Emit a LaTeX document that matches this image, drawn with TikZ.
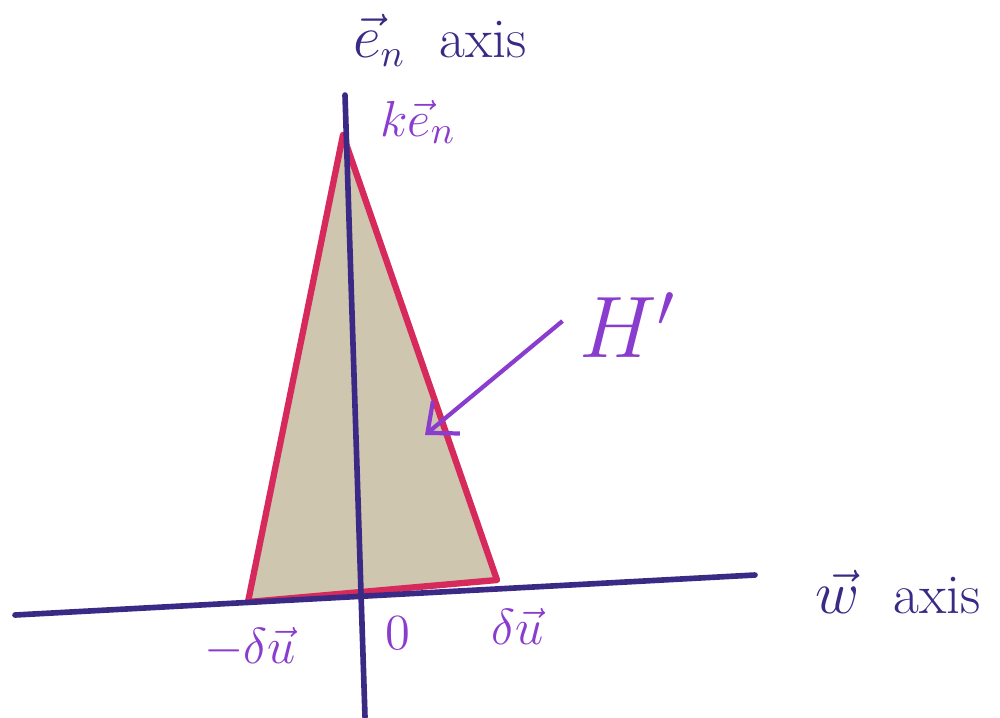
\documentclass[tikz,border=0pt]{standalone}
\usepackage{amsmath,amssymb}
\usepackage{xcolor}
\usetikzlibrary{calc,arrows.meta}
\definecolor{paper}{HTML}{FFFFFF}
\definecolor{ink}{HTML}{3A2A85}
\definecolor{pen}{HTML}{8A3CCF}
\definecolor{rim}{HTML}{D62A5C}
\definecolor{shade}{HTML}{CFC6B0}
\tikzset{
  axisline/.style={draw=ink, line width=1.6pt, line cap=round},
  region/.style={draw=rim, fill=shade, line width=1.8pt, line join=round},
  pointer/.style={draw=pen, line width=1.2pt, -{Straight Barb[length=7pt,width=12pt]}},
  lab/.style={text=pen, inner sep=1pt, font=\fontsize{15}{17}\selectfont},
  laba/.style={text=ink, inner sep=1pt, font=\fontsize{16}{18}\selectfont},
}
\begin{document}
\begin{tikzpicture}[x=0.1mm, y=-0.1mm]
  \useasboundingbox[fill=paper] (0,0) rectangle (1000,717);
  % axes
  \coordinate (Etop) at (345,95);
  \coordinate (Ebot) at (365,717);
  \coordinate (Wl) at (15,615);
  \coordinate (Wr) at (755,575);
  % triangle H'
  \coordinate (A) at (343,135);
  \coordinate (L) at (248,602);
  \coordinate (R) at (497,580);
  \draw[region] (A) -- (R) -- (L) -- cycle;
  \draw[axisline] (Wl) -- (Wr);
  \draw[axisline] (Etop) -- (Ebot);
  % labels
  \node[laba] (enaxis) at (440,40) {$\vec{e}_n$\ \ axis};
  \node[laba] (waxis) at (898,592) {$\vec{w}$\ \ axis};
  \node[lab] (ken) at (418,122) {$k\vec{e}_n$};
  \node[lab] (mdu) at (250,648) {$-\delta\vec{u}$};
  \node[lab] (zero) at (398,633) {$0$};
  \node[lab] (pdu) at (518,626) {$\delta\vec{u}$};
  \node[text=pen, font=\fontsize{24}{26}\selectfont] (Hp) at (628,325) {$H'$};
  \coordinate (Hin) at (425,435);
  \draw[pointer] ($(Hp.west)+(-0.5mm,0.4mm)$) -- (Hin);
\end{tikzpicture}
\end{document}
